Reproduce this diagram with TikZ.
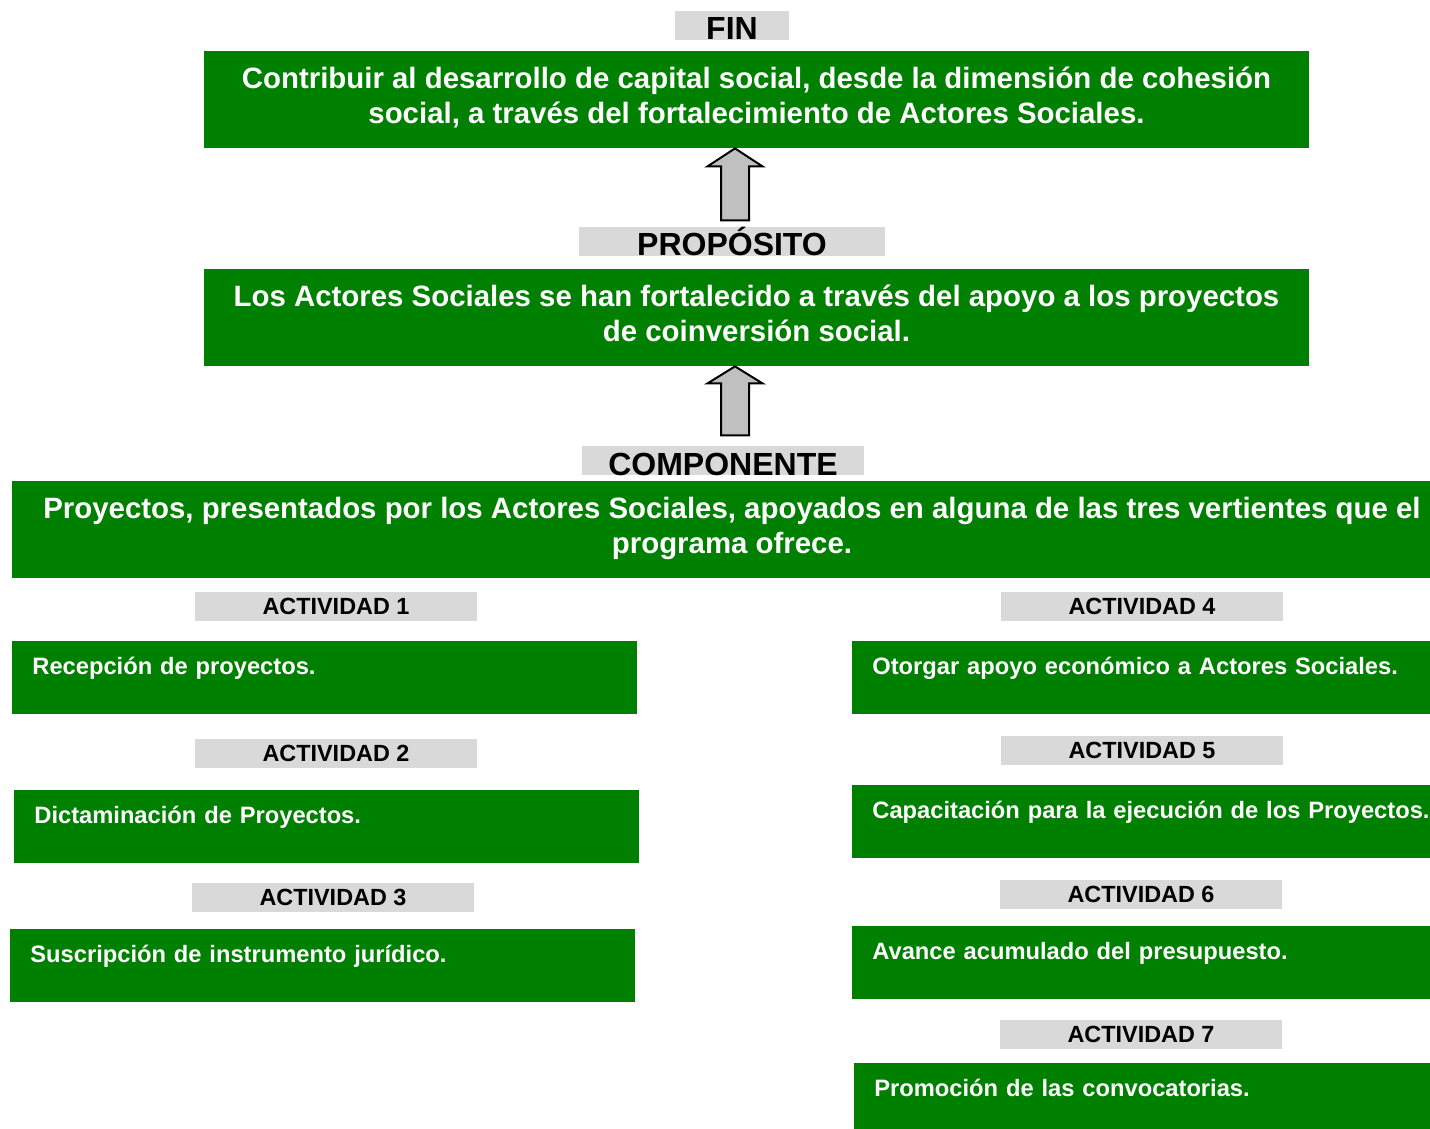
\documentclass[tikz,border=0pt]{standalone}
\usepackage{fontspec}
\setmainfont{Liberation Sans}
\usetikzlibrary{positioning,calc}
\definecolor{mirGreen}{HTML}{008000}
\definecolor{mirGray}{HTML}{D9D9D9}
\definecolor{mirArrow}{HTML}{C0C0C0}

\begin{document}
\begin{tikzpicture}[
  x=0.5pt, y=-0.5pt,
  level box/.style={fill=mirGreen, text=white, font=\fontsize{14.7}{17.5}\selectfont\bfseries,
    align=center, minimum width=552.5pt, minimum height=48.5pt, inner sep=0pt,
    text height=30pt, text depth=6pt},
  level tag/.style={fill=mirGray, font=\fontsize{16}{18}\selectfont\bfseries,
    minimum height=14.5pt, text height=14.5pt, text depth=0pt, inner sep=0pt},
  act tag/.style={fill=mirGray, font=\fontsize{11.7}{13}\selectfont\bfseries,
    minimum width=141pt, minimum height=14.5pt, inner sep=0pt},
  act box/.style={fill=mirGreen, text=white, font=\fontsize{11.85}{14}\selectfont\bfseries,
    anchor=north west, align=left, text height=16.75pt, text depth=19.75pt,
    inner xsep=10pt, inner ysep=0pt},
  up arrow/.style={fill=mirArrow, draw=black, line width=1pt, line join=miter},
]
\useasboundingbox (0,0) rectangle (1430,1129);

% FIN
\node[level tag, minimum width=57pt] (fintag) at (732,25.5) {FIN};
\node[level box] (finbox) at (756.5,99.5)
  {Contribuir al desarrollo de capital social, desde la dimensión de cohesión\\
   social, a través del fortalecimiento de Actores Sociales.};

% PROPOSITO
\node[level tag, minimum width=153pt] (proptag) at (732,241.5) {PROPÓSITO};
\node[level box] (propbox) at (756.5,317.5)
  {Los Actores Sociales se han fortalecido a través del apoyo a los proyectos\\
   de coinversión social.};

% COMPONENTE
\node[level tag, minimum width=141pt] (comptag) at (723,460.5) {COMPONENTE};
\node[level box, minimum width=709pt] (compbox) at (721,529.5)
  {\hspace*{11pt}Proyectos, presentados por los Actores Sociales, apoyados en alguna de las tres vertientes que el\\
   \hspace*{11pt}programa ofrece.};

% hollow arrows between levels
\coordinate (axis) at (735,0);
\draw[up arrow] (finbox.south -| axis) -- ++(27.5,18) -- ++(-13.5,0) -- ++(0,54)
  -- ++(-28,0) -- ++(0,-54) -- ++(-13.5,0) -- cycle;
\draw[up arrow] (propbox.south -| axis) -- ++(27.5,17) -- ++(-13.5,0) -- ++(0,52)
  -- ++(-28,0) -- ++(0,-52) -- ++(-13.5,0) -- cycle;

% Activities, left column
\node[act tag] (tag1) at (336,606.5) {ACTIVIDAD 1};
\node[act box, text width=292.5pt] (act1) at (12,641) {Recepción de proyectos.};
\node[act tag] (tag2) at (336,753) {ACTIVIDAD 2};
\node[act box, text width=292.5pt] (act2) at (14,790) {Dictaminación de Proyectos.};
\node[act tag] (tag3) at (333,897) {ACTIVIDAD 3};
\node[act box, text width=292.5pt] (act3) at (10,929) {Suscripción de instrumento jurídico.};

% Activities, right column
\node[act tag] (tag4) at (1142,606.5) {ACTIVIDAD 4};
\node[act box, text width=269pt] (act4) at (852,641) {Otorgar apoyo económico a Actores Sociales.};
\node[act tag] (tag5) at (1142,750) {ACTIVIDAD 5};
\node[act box, text width=269pt] (act5) at (852,785) {\mbox{Capacitación para la ejecución de los Proyectos.}};
\node[act tag] (tag6) at (1141,894) {ACTIVIDAD 6};
\node[act box, text width=269pt] (act6) at (852,926) {Avance acumulado del presupuesto.};
\node[act tag] (tag7) at (1141,1034.5) {ACTIVIDAD 7};
\node[act box, text width=268pt, text depth=16.25pt] (act7) at (854,1063) {Promoción de las convocatorias.};

\end{tikzpicture}
\end{document}
